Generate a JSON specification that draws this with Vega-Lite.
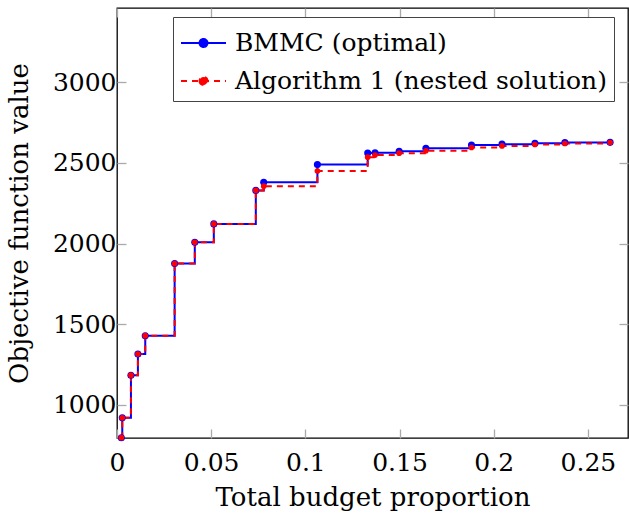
{
  "$schema": "https://vega.github.io/schema/vega-lite/v6.json",
  "autosize": "none",
  "width": 511,
  "height": 430,
  "padding": {"left": 117, "top": 8, "right": 1, "bottom": 79},
  "background": "white",
  "config": {
    "view": {"stroke": "black", "strokeWidth": 1.3},
    "font": "DejaVu Serif"
  },
  "data": {
    "values": [
      {"s": "BMMC (optimal)", "x": 0.0023, "y": 795},
      {"s": "BMMC (optimal)", "x": 0.0028, "y": 918},
      {"s": "BMMC (optimal)", "x": 0.0074, "y": 1183},
      {"s": "BMMC (optimal)", "x": 0.0111, "y": 1314},
      {"s": "BMMC (optimal)", "x": 0.0150, "y": 1428},
      {"s": "BMMC (optimal)", "x": 0.0306, "y": 1876},
      {"s": "BMMC (optimal)", "x": 0.0413, "y": 2008},
      {"s": "BMMC (optimal)", "x": 0.0514, "y": 2122},
      {"s": "BMMC (optimal)", "x": 0.0737, "y": 2330},
      {"s": "BMMC (optimal)", "x": 0.0779, "y": 2380},
      {"s": "BMMC (optimal)", "x": 0.1064, "y": 2490},
      {"s": "BMMC (optimal)", "x": 0.1331, "y": 2562},
      {"s": "BMMC (optimal)", "x": 0.1370, "y": 2564},
      {"s": "BMMC (optimal)", "x": 0.1498, "y": 2573},
      {"s": "BMMC (optimal)", "x": 0.1640, "y": 2592},
      {"s": "BMMC (optimal)", "x": 0.1882, "y": 2611},
      {"s": "BMMC (optimal)", "x": 0.2044, "y": 2617},
      {"s": "BMMC (optimal)", "x": 0.2219, "y": 2623},
      {"s": "BMMC (optimal)", "x": 0.2378, "y": 2627},
      {"s": "BMMC (optimal)", "x": 0.2618, "y": 2628},
      {"s": "Algorithm 1 (nested solution)", "x": 0.0023, "y": 795},
      {"s": "Algorithm 1 (nested solution)", "x": 0.0028, "y": 918},
      {"s": "Algorithm 1 (nested solution)", "x": 0.0074, "y": 1183},
      {"s": "Algorithm 1 (nested solution)", "x": 0.0111, "y": 1314},
      {"s": "Algorithm 1 (nested solution)", "x": 0.0150, "y": 1428},
      {"s": "Algorithm 1 (nested solution)", "x": 0.0306, "y": 1876},
      {"s": "Algorithm 1 (nested solution)", "x": 0.0413, "y": 2008},
      {"s": "Algorithm 1 (nested solution)", "x": 0.0514, "y": 2122},
      {"s": "Algorithm 1 (nested solution)", "x": 0.0737, "y": 2330},
      {"s": "Algorithm 1 (nested solution)", "x": 0.0779, "y": 2356},
      {"s": "Algorithm 1 (nested solution)", "x": 0.1064, "y": 2450},
      {"s": "Algorithm 1 (nested solution)", "x": 0.1331, "y": 2536},
      {"s": "Algorithm 1 (nested solution)", "x": 0.1370, "y": 2549},
      {"s": "Algorithm 1 (nested solution)", "x": 0.1498, "y": 2561},
      {"s": "Algorithm 1 (nested solution)", "x": 0.1640, "y": 2576},
      {"s": "Algorithm 1 (nested solution)", "x": 0.1882, "y": 2596},
      {"s": "Algorithm 1 (nested solution)", "x": 0.2044, "y": 2606},
      {"s": "Algorithm 1 (nested solution)", "x": 0.2219, "y": 2615},
      {"s": "Algorithm 1 (nested solution)", "x": 0.2378, "y": 2621},
      {"s": "Algorithm 1 (nested solution)", "x": 0.2618, "y": 2627}
    ]
  },
  "layer": [
    {
      "mark": {"type": "line", "interpolate": "step-after", "strokeWidth": 2},
      "encoding": {
        "x": {
          "field": "x", "type": "quantitative",
          "scale": {"domain": [0, 0.2713], "nice": false, "zero": false},
          "axis": {
            "orient": "bottom", "values": [0, 0.05, 0.1, 0.15, 0.2, 0.25], "format": "~g",
            "domain": false, "grid": false, "tickSize": -9, "tickColor": "#aaaaaa", "tickWidth": 1.3,
            "labelFont": "DejaVu Serif", "labelFontSize": 25, "labelColor": "black",
            "labelPadding": 21, "labelFlush": false, "labelOverlap": false,
            "title": "Total budget proportion", "titleFont": "DejaVu Serif", "titleFontSize": 26,
            "titleFontWeight": "normal", "titleColor": "black", "titlePadding": 9
          }
        },
        "y": {
          "field": "y", "type": "quantitative",
          "scale": {"domain": [793, 3462], "nice": false, "zero": false},
          "axis": {
            "orient": "left", "values": [1000, 1500, 2000, 2500, 3000], "format": "d",
            "domain": false, "grid": false, "tickSize": -9, "tickColor": "#aaaaaa", "tickWidth": 1.3,
            "labelFont": "DejaVu Serif", "labelFontSize": 25, "labelColor": "black",
            "labelPadding": 10, "labelOverlap": false,
            "title": "Objective function value", "titleFont": "DejaVu Serif", "titleFontSize": 26,
            "titleFontWeight": "normal", "titleColor": "black", "titlePadding": 20
          }
        },
        "color": {
          "field": "s", "type": "nominal",
          "scale": {"domain": ["BMMC (optimal)", "Algorithm 1 (nested solution)"], "range": ["#0000ff", "#ff0000"]},
          "legend": {
            "title": null, "orient": "none", "legendX": 56, "legendY": 9,
            "symbolType": "M-1,0L1.5,0M0.028,0A0.222,0.222,0,1,0,0.472,0A0.222,0.222,0,1,0,0.028,0Z",
            "symbolSize": 1296, "symbolStrokeWidth": 2,
            "labelFont": "DejaVu Serif", "labelFontSize": 25, "labelColor": "black", "labelLimit": 600,
            "labelOffset": 17, "rowPadding": 6, "padding": 7,
            "strokeColor": "#444444",
            "encode": {
              "symbols": {"update": {
                "fill": {"scale": "color", "field": "value"},
                "stroke": {"scale": "color", "field": "value"},
                "opacity": {"value": 1}
              }}
            }
          }
        },
        "strokeDash": {
          "field": "s", "type": "nominal",
          "scale": {"domain": ["BMMC (optimal)", "Algorithm 1 (nested solution)"], "range": [[1, 0], [6, 5]]},
          "legend": {
            "title": null, "orient": "none", "legendX": 56, "legendY": 9,
            "symbolType": "M-1,0L1.5,0M0.028,0A0.222,0.222,0,1,0,0.472,0A0.222,0.222,0,1,0,0.028,0Z",
            "symbolSize": 1296, "symbolStrokeWidth": 2,
            "labelFont": "DejaVu Serif", "labelFontSize": 25, "labelColor": "black", "labelLimit": 600,
            "labelOffset": 17, "rowPadding": 6, "padding": 7,
            "strokeColor": "#444444"
          }
        }
      }
    },
    {
      "mark": {"type": "point", "filled": true, "opacity": 1, "shape": "circle"},
      "encoding": {
        "x": {"field": "x", "type": "quantitative", "axis": null},
        "y": {"field": "y", "type": "quantitative", "axis": null},
        "color": {"field": "s", "type": "nominal"},
        "size": {"condition": {"test": "datum.s === 'BMMC (optimal)'", "value": 50}, "value": 32}
      }
    },
    {
      "mark": {"type": "point", "opacity": 0},
      "encoding": {
        "x": {
          "field": "x", "type": "quantitative",
          "axis": {"orient": "top", "values": [0, 0.05, 0.1, 0.15, 0.2, 0.25], "labels": false, "title": null,
            "domain": false, "grid": false, "tickSize": -9, "tickColor": "#aaaaaa", "tickWidth": 1.3}
        },
        "y": {
          "field": "y", "type": "quantitative",
          "axis": {"orient": "right", "values": [1000, 1500, 2000, 2500, 3000], "labels": false, "title": null,
            "domain": false, "grid": false, "tickSize": -9, "tickColor": "#aaaaaa", "tickWidth": 1.3}
        }
      }
    }
  ],
  "resolve": {"axis": {"x": "independent", "y": "independent"}}
}
